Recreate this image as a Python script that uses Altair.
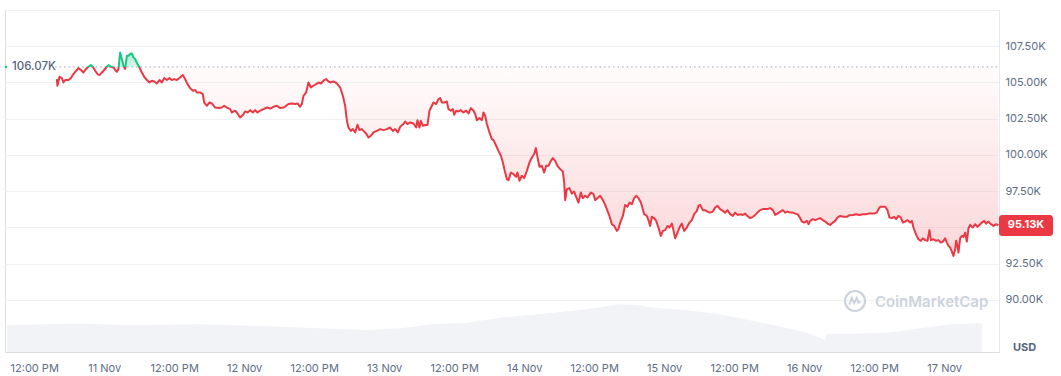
import altair as alt
import pandas as pd

# ---------------- data (prices in thousands of USD, time in hours since 10 Nov 00:00 UTC)
hours = [
    15.89, 15.99, 16.34, 16.75, 17.02, 17.31, 17.88, 18.29, 18.74, 19.20, 19.59, 20.01, 20.45, 20.91, 21.31, 21.72,
    22.06, 22.46, 22.85, 23.19, 23.61, 24.00, 24.46, 24.74, 25.15, 25.59, 25.89, 26.18, 26.45, 26.74, 27.03, 27.31,
    27.60, 27.89, 28.17, 28.46, 28.75, 29.02, 29.31, 29.71, 30.05, 30.46, 30.86, 31.32, 31.77, 32.18, 32.57, 33.03,
    33.48, 33.89, 34.29, 34.75, 35.19, 35.61, 36.00, 36.46, 36.91, 37.49, 37.89, 38.28, 38.74, 39.21, 39.60, 39.89,
    40.46, 40.92, 41.14, 41.61, 42.05, 42.46, 43.03, 43.59, 44.18, 44.57, 45.03, 45.60, 45.89, 46.46, 46.85, 47.31,
    47.78, 48.17, 48.57, 49.03, 49.49, 49.89, 50.28, 50.74, 51.31, 51.89, 52.46, 53.02, 53.61, 54.17, 54.74, 55.20,
    55.59, 56.18, 56.74, 57.14, 57.60, 57.89, 58.17, 58.63, 59.02, 59.43, 59.88, 60.34, 60.74, 61.15, 61.59, 62.06,
    62.45,
    62.74, 63.31, 63.89, 64.46, 64.92, 65.31, 65.61, 65.88, 66.29, 66.63, 67.03, 67.42, 67.77, 68.18, 68.45, 68.91,
    69.31, 69.72, 70.17, 70.75, 71.31, 71.88, 72.46, 73.03, 73.49, 73.89, 74.35, 74.74, 75.31, 75.60, 75.99, 76.46,
    77.02, 77.49, 77.71, 78.05, 78.29, 78.63, 79.03, 79.42, 79.77, 80.18, 80.45, 80.91, 81.31, 81.60, 81.89, 82.29,
    82.75, 83.02, 83.43, 83.78, 84.00, 84.34, 84.74, 85.15, 85.59, 86.06, 86.45, 86.86, 87.31, 87.60, 87.89, 88.34,
    88.75, 89.02, 89.31, 89.61, 90.05, 90.46, 90.74, 91.20, 91.59, 92.01, 92.35, 92.74, 93.03,
    93.31, 93.72, 94.17, 94.63, 94.85, 95.19, 95.61, 96.00, 96.46, 96.91, 97.32, 97.71, 98.01, 98.35, 98.62, 99.03,
    99.43, 99.77, 100.17, 100.58, 100.92, 101.31, 101.71, 102.17, 102.63, 102.86, 103.03, 103.32, 103.77, 104.18,
    104.57, 104.91, 105.31, 105.72, 106.06, 106.46, 106.85, 107.43, 107.88, 108.17, 108.57, 109.03, 109.49, 109.89,
    110.28, 110.62, 111.03, 111.43, 111.89, 112.17, 112.46, 112.92, 113.31, 113.71, 114.05, 114.46, 114.86, 115.20,
    115.59, 116.01,
    116.18, 116.57, 117.03, 117.31, 117.60, 117.89, 118.29, 118.63, 119.02, 119.43, 119.78, 120.17, 120.57, 120.91,
    121.32, 121.59, 121.89, 122.18, 122.62, 123.03, 123.43, 123.89, 124.34, 124.75, 125.14, 125.61, 125.88, 126.17,
    126.63, 127.03, 127.42, 127.89, 128.35, 128.74, 129.14, 129.60, 130.06, 130.46, 130.85, 131.31, 131.78, 132.17,
    132.57, 133.03, 133.49, 133.89, 134.28, 134.74, 135.21, 135.60, 135.99, 136.46, 136.92, 137.31, 137.71, 138.17,
    138.63, 139.03, 139.42, 139.89, 140.35, 140.74, 141.14, 141.60, 142.06, 142.46, 142.85, 143.19, 143.61, 144.00,
    144.46, 144.74,
    145.03, 145.49, 145.89, 146.28, 146.74, 147.21, 147.60, 147.99, 148.46, 148.92, 149.31, 149.71, 150.17, 150.74,
    151.32, 151.77, 152.35, 152.91, 153.48, 154.06, 154.63, 155.02, 155.61, 156.00, 156.46, 156.74, 157.03, 157.49,
    157.89, 158.28, 158.62, 159.03, 159.43, 159.77, 160.17, 160.58, 160.92, 161.31, 161.71, 162.17, 162.46, 162.74,
    163.20, 163.59, 164.01, 164.35, 164.74, 165.14, 165.48, 165.72, 166.17, 166.63, 167.02, 167.43, 167.78, 168.17,
    168.46, 168.74, 169.03, 169.32, 169.59, 169.89, 170.06, 170.28, 170.45, 170.74, 171.03, 171.31, 171.60, 171.89,
    172.17, 172.46, 172.92, 173.31, 173.71, 174.05, 174.46, 174.86, 175.20, 175.59, 176.01, 176.45, 176.91, 177.31,
]
prices = [
    105.23, 104.77, 105.39, 105.30, 105.00, 105.17, 105.17, 105.30, 105.58, 105.81, 105.99, 105.86, 105.69, 105.93,
    106.08, 106.20, 106.08, 105.81, 105.58, 105.51, 105.69, 105.86, 106.08, 106.20, 106.08, 106.04, 105.86, 105.74,
    105.93, 107.07, 106.62, 106.15, 105.93, 106.84, 106.84, 106.96, 107.00, 106.73, 106.62, 106.27, 106.04, 105.69,
    105.39, 105.17, 105.00, 105.12, 105.07, 104.93, 105.17, 105.00, 105.30, 105.17, 105.30, 105.17, 105.23, 105.17,
    105.30, 105.51, 105.23, 104.89, 104.61, 104.43, 104.48, 104.31,
    104.31, 104.20, 103.62, 103.39, 103.62, 103.55, 103.27, 103.23, 103.27, 103.39, 103.27, 103.16, 102.93, 103.05,
    102.86, 102.58, 102.75, 103.00, 102.93, 103.09, 102.93, 103.09, 102.93, 103.05, 103.16, 103.27, 103.20, 103.32,
    103.39, 103.23, 103.27, 103.39, 103.51, 103.55, 103.51, 103.55, 103.32, 103.51, 104.08, 104.31, 105.00, 104.65,
    104.77, 104.89, 105.00, 104.93, 105.12, 105.23, 105.07,
    105.00, 105.07, 104.93, 104.65, 104.08, 103.39, 102.35, 101.89, 101.66, 101.78, 101.55, 102.08, 101.71, 101.78,
    101.66, 101.48, 101.20, 101.32, 101.55, 101.66, 101.78, 101.71, 101.78, 101.89, 101.66, 101.78, 101.55, 101.94,
    102.13, 102.31, 102.13, 102.24, 102.17, 101.89, 102.40, 101.89, 102.35, 102.01, 102.06, 102.06, 103.05, 103.39,
    103.62, 103.51, 103.85, 103.92, 103.62, 103.62, 103.69, 103.16, 103.05, 103.16, 102.77, 103.05, 103.00, 103.09,
    102.93, 103.05, 102.86, 103.23, 103.05, 102.82, 102.40, 102.54, 102.40, 102.93, 102.70, 102.13, 101.55, 101.09,
    101.02, 100.63, 100.28, 99.94, 99.48, 98.78, 98.33,
    98.26, 98.78, 98.67, 98.49, 98.78, 98.21, 98.56, 98.40, 98.90, 99.48, 99.82, 100.06, 100.47, 99.71, 99.18, 99.25,
    98.78, 99.25, 99.25, 99.59, 99.78, 99.59, 99.25, 99.02, 98.85, 98.09, 96.88, 97.64, 97.71, 97.33, 97.47, 97.11,
    96.71, 97.40, 97.02, 97.18, 97.06, 97.40, 97.29, 96.88, 97.02, 97.18, 96.88, 96.55, 96.14, 95.79, 95.22, 95.10,
    94.76, 94.88, 95.33, 95.79, 96.55, 96.42, 96.71, 96.60, 97.02, 97.18, 97.02, 96.71,
    96.48, 95.91, 95.79, 95.50, 95.10, 95.73, 95.64, 95.45, 94.99, 94.41, 94.76, 94.81, 95.10, 94.99, 95.26, 94.81,
    94.25, 94.53, 94.99, 95.26, 94.76, 94.99, 95.33, 95.50, 95.91, 96.14, 96.48, 96.55, 96.19, 96.19, 96.09, 96.02,
    96.09, 96.37, 96.48, 96.26, 96.14, 96.02, 96.19, 95.91, 95.79, 96.02, 95.86, 95.91, 95.86, 95.95, 95.79, 95.64,
    95.73, 95.86, 96.02, 96.19, 96.26, 96.26, 96.26, 96.33, 96.19, 95.86, 95.95, 96.09, 96.19, 96.02, 96.09, 96.02,
    96.02, 95.95, 95.91, 95.73, 95.40, 95.33, 95.45, 95.22,
    95.45, 95.57, 95.50, 95.57, 95.64, 95.50, 95.40, 95.26, 95.17, 95.33, 95.45, 95.68, 95.79, 95.73, 95.73, 95.84,
    95.86, 95.91, 95.86, 95.91, 95.91, 95.95, 95.95, 95.95, 96.02, 96.26, 96.42, 96.42, 96.42, 96.19, 95.68, 95.64,
    95.73, 95.57, 95.79, 95.68, 95.33, 95.40, 95.50, 95.33, 95.45, 94.99, 94.48, 94.18, 94.07, 94.25, 94.12, 94.07,
    94.81, 94.12, 94.18, 94.07, 94.12, 93.95, 94.02, 94.25, 93.95, 93.72, 93.60, 93.33, 93.03, 93.49, 94.07, 93.72,
    93.26, 94.25, 94.41, 94.34, 94.64, 94.02, 94.94, 95.17, 94.99, 95.22, 95.03, 95.17, 95.33, 95.45, 95.26, 95.40,
    95.22, 95.10, 95.22, 95.13,
]
assert len(hours) == len(prices)

vol_hours = [7.37, 17.66, 20.40, 28.97, 31.89, 40.46, 51.94, 63.26, 69.09, 74.74, 80.40, 86.23, 88.97, 91.89,
             95.31, 100.97, 106.80, 110.23, 112.46, 115.37, 118.11, 123.94, 129.60, 135.26, 138.17, 143.83,
             146.74, 147.60, 147.94, 152.40, 158.23, 162.69, 166.80, 169.54, 174.51]
vol_bn = [53.4, 56.6, 56.6, 53.4, 54.0, 55.4, 51.4, 46.6, 44.0, 47.4, 55.4, 58.6, 63.4, 68.6, 72.0, 78.6, 85.4,
          92.0, 95.4, 94.0, 88.6, 83.4, 75.4, 62.0, 55.4, 40.6, 28.6, 23.4, 36.6, 36.6, 38.6, 45.4, 52.0, 55.4, 57.4]
assert len(vol_hours) == len(vol_bn)

OPEN_PRICE = 106.07
LAST_PRICE = 95.13
y_ticks = [90, 92.5, 95, 97.5, 100, 102.5, 105, 107.5, 110]
x_tick_hours = list(range(12, 169, 12))

# ---------------- styling
RED = "#ea3943"
GREEN = "#16c784"
TXT = "#616e85"
GRID = "#eff2f5"
WM = "#cdd3dd"
FONT = "Inter"

base_ms = pd.Timestamp("2025-11-10", tz="UTC").value // 10**6


def ms(h):
    return base_ms + int(round(h * 3600000))


start_h, end_h = 7.0, 177.4

df = pd.DataFrame({"t": [ms(h) for h in hours], "p": prices})
df["base"] = OPEN_PRICE
vdf = pd.DataFrame({"t": [ms(h) for h in vol_hours], "v": vol_bn})

pmax, pmin = max(prices), min(prices)
f = (pmax - OPEN_PRICE) / (pmax - pmin)

x_enc = alt.X(
    "t:T",
    scale=alt.Scale(type="utc", domain=[ms(start_h), ms(end_h)]),
    axis=alt.Axis(
        values=[ms(h) for h in x_tick_hours],
        labelExpr="utchours(datum.value) == 0 ? utcFormat(datum.value, '%-d %b') : utcFormat(datum.value, '%I:%M %p')",
        grid=False, ticks=False, tickSize=0, domain=False, labelPadding=10,
        labelFontSize=11, labelColor=TXT, labelFont=FONT, labelOverlap=False, labelFlush=False, title=None,
    ),
)
y_enc = alt.Y(
    "p:Q",
    scale=alt.Scale(domain=[86.4, 110], nice=False, zero=False),
    axis=alt.Axis(
        orient="right", values=y_ticks,
        labelExpr="(datum.value == 95 || datum.value >= 110) ? '' : format(datum.value, '.2f') + 'K'",
        grid=True, gridColor=GRID, gridWidth=1, ticks=False, tickSize=0,
        domain=True, domainColor="#e6e9ee", labelPadding=6, labelFontSize=11,
        labelColor=TXT, labelFont=FONT, labelAlign="left", title=None,
    ),
)

line_grad = alt.Gradient(
    gradient="linear",
    stops=[
        alt.GradientStop(color=GREEN, offset=0),
        alt.GradientStop(color=GREEN, offset=f),
        alt.GradientStop(color=RED, offset=f),
        alt.GradientStop(color=RED, offset=1),
    ],
    x1=0, x2=0, y1=0, y2=1,
)
fill_grad = alt.Gradient(
    gradient="linear",
    stops=[
        alt.GradientStop(color="rgba(22,199,132,0.38)", offset=0),
        alt.GradientStop(color="rgba(22,199,132,0.15)", offset=f),
        alt.GradientStop(color="rgba(234,57,67,0.015)", offset=f),
        alt.GradientStop(color="rgba(234,57,67,0.2)", offset=1),
    ],
    x1=0, x2=0, y1=0, y2=1,
)

# volume (own scale)
volume = alt.Chart(vdf).mark_area(color="#f1f3f6").encode(
    x=x_enc,
    y=alt.Y("v:Q", scale=alt.Scale(domain=[0, 684], nice=False), axis=None),
)

fill = alt.Chart(df).mark_area(color=fill_grad).encode(x=x_enc, y=y_enc, y2="base:Q")
line = alt.Chart(df).mark_line(stroke=line_grad, strokeWidth=2, strokeJoin="round").encode(x=x_enc, y=y_enc)

base_df = pd.DataFrame({"t": [ms(hours[0] - 0.3)], "t2": [ms(end_h)], "p": [OPEN_PRICE],
                        "label": [f"{OPEN_PRICE:.2f}K"]})
base_rule = alt.Chart(base_df).mark_rule(color="#9aa3b5", strokeDash=[1.5, 3], strokeWidth=1).encode(
    x=x_enc, x2="t2:T", y=y_enc)
base_label = alt.Chart(base_df).mark_text(align="left", baseline="middle", fontSize=11.5, fontWeight=500,
                                          color="#58667e", font=FONT).encode(
    x=alt.value(7), y=y_enc, text="label:N")
base_dot = alt.Chart(base_df).mark_point(shape="square", size=5, filled=True, color=GREEN, opacity=1).encode(
    x=alt.value(1), y=y_enc)

badge_df = pd.DataFrame({"p": [LAST_PRICE + 0.72], "p2": [LAST_PRICE - 0.73]})
badge = alt.Chart(badge_df).mark_rect(color=RED, cornerRadius=3).encode(
    x=alt.value(994), x2=alt.value(1048), y=y_enc, y2="p2:Q")
badge_txt_df = pd.DataFrame({"p": [LAST_PRICE], "label": [f"{LAST_PRICE:.2f}K"]})
badge_txt = alt.Chart(badge_txt_df).mark_text(color="white", fontWeight=700, fontSize=11, font=FONT,
                                              align="center", baseline="middle").encode(
    x=alt.value(1021), y=y_enc, text="label:N")

one = pd.DataFrame({"txt": ["CoinMarketCap"]})
wm_text = alt.Chart(one).mark_text(align="left", baseline="middle", fontSize=15, fontWeight=600,
                                   color=WM, font=FONT).encode(
    x=alt.value(870), y=alt.value(292), text="txt:N")
wm_circle = alt.Chart(one).mark_point(shape="circle", size=400, filled=False, stroke=WM,
                                      strokeWidth=2.2, opacity=1).encode(x=alt.value(850), y=alt.value(291))
wm_wave = alt.Chart(one).mark_point(
    shape="M-0.55,0.35 L-0.32,-0.3 L-0.08,0.22 L0.16,-0.3 L0.34,0.18 L0.55,0.05",
    size=400, filled=False, stroke=WM, strokeWidth=2, opacity=1).encode(x=alt.value(850), y=alt.value(291))

usd_df = pd.DataFrame({"txt": ["USD"]})
usd = alt.Chart(usd_df).mark_text(align="center", baseline="middle", fontSize=11, fontWeight=700,
                                  color="#58667e", font=FONT).encode(
    x=alt.value(1019.5), y=alt.value(338), text="txt:N")

price_layers = alt.layer(fill, base_rule, line, base_label, base_dot, badge, badge_txt,
                         wm_circle, wm_wave, wm_text, usd)

chart = alt.layer(volume, price_layers).resolve_scale(y="independent").properties(
    width=994, height=342,
    padding={"left": 4, "top": 10, "right": 5, "bottom": 0},
).configure_view(stroke=None).configure(font=FONT)

chart.save("out.html", embed_options={"renderer": "svg", "actions": False})
